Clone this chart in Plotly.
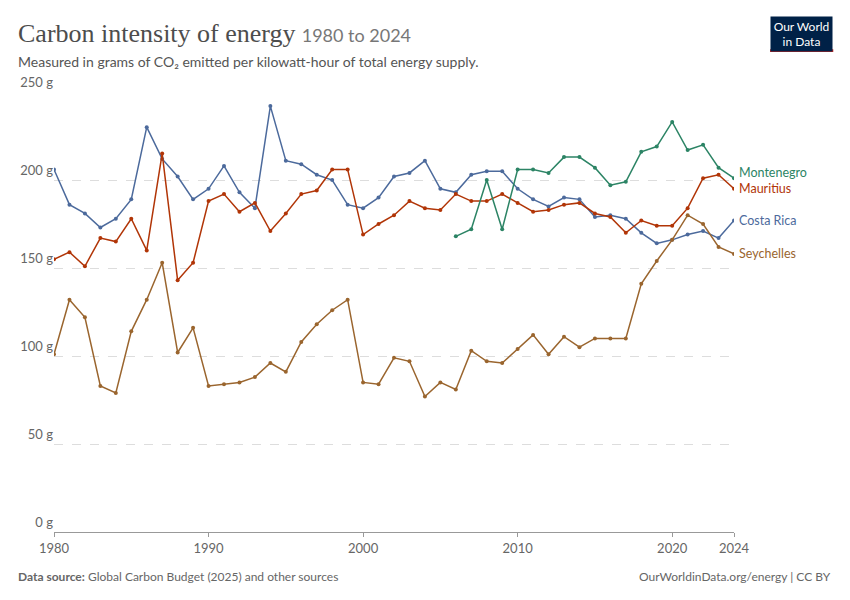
import plotly.graph_objects as go

years = list(range(1980, 2025))
costa_rica = [206,186,181,173,178,189,230,212,202,189,195,208,193,184,242,211,209,203,200,186,184,190,202,204,211,195,193,203,205,205,195,189,185,190,189,179,180,178,170,164,166,169,171,167,177]
mauritius = [155,159,151,167,165,178,160,215,143,153,188,192,182,187,171,181,192,194,206,206,169,175,180,188,184,183,192,188,188,192,187,182,183,186,187,181,179,170,177,174,174,184,201,203,195]
seychelles = [101,132,122,83,79,114,132,153,102,116,83,84,85,88,96,91,108,118,126,132,85,84,99,97,77,85,81,103,97,96,104,112,101,111,105,110,110,110,141,154,166,180,175,162,158]
mont_years = list(range(2006, 2025))
montenegro = [168,172,200,172,206,206,204,213,213,207,197,199,216,219,233,217,220,207,201]

series = [
    ("Costa Rica", years, costa_rica, "#4c6a9c"),
    ("Mauritius", years, mauritius, "#b13507"),
    ("Seychelles", years, seychelles, "#9a652e"),
    ("Montenegro", mont_years, montenegro, "#2c8465"),
]
label_y = {"Montenegro": 204, "Mauritius": 195, "Costa Rica": 177, "Seychelles": 158}

fig = go.Figure()
for name, xs, ys, c in series:
    fig.add_trace(go.Scatter(x=xs, y=ys, mode="lines+markers", name=name,
                             line=dict(color=c, width=1.5), marker=dict(size=4, color=c)))
    fig.add_annotation(x=2024, y=label_y[name], text=name, showarrow=False, xanchor="left",
                       xshift=3, font=dict(size=12.5, color=c, family="Lato"))

fig.update_layout(
    width=834, height=584, plot_bgcolor="white", paper_bgcolor="white",
    margin=dict(l=46, r=108, t=84, b=60), showlegend=False,
    font=dict(family="Lato", color="#5b5b5b"),
    xaxis=dict(range=[1980, 2024], tickvals=[1980, 1990, 2000, 2010, 2020, 2024],
               showgrid=False, showline=True, linecolor="#999", ticks="outside",
               tickcolor="#999", ticklen=4, tickfont=dict(size=13, color="#666")),
    yaxis=dict(range=[0, 250], tickvals=[0, 50, 100, 150, 200, 250],
               ticktext=["0 g", "50 g", "100 g", "150 g", "200 g", "250 g"],
               showgrid=True, gridcolor="#ddd", griddash="dash", zeroline=False,
               tickfont=dict(size=13, color="#666"), ticklabelposition="outside top"),
)
L = -0.056
fig.add_annotation(xref="paper", yref="paper", x=L, y=1.134, xanchor="left", yanchor="middle",
                   text="<span style='font-family:Liberation Serif;font-size:26px;color:#4d4d4d'>Carbon intensity of energy</span>"
                        "  <span style='font-size:18px;color:#777'>1980 to 2024</span>",
                   showarrow=False, font=dict(family="Lato"))
fig.add_annotation(xref="paper", yref="paper", x=L, y=1.07, xanchor="left", yanchor="middle",
                   text="Measured in grams of CO₂ emitted per kilowatt-hour of total energy supply.",
                   showarrow=False, font=dict(size=14, color="#555"))
fig.add_annotation(xref="paper", yref="paper", x=L, y=-0.102, xanchor="left", yanchor="middle",
                   text="<b>Data source:</b> Global Carbon Budget (2025) and other sources",
                   showarrow=False, font=dict(size=12, color="#666"))
fig.add_annotation(xref="paper", yref="paper", x=1.146, y=-0.102, xanchor="right", yanchor="middle",
                   text="OurWorldinData.org/energy | CC BY", showarrow=False, font=dict(size=12, color="#666"))
fig.add_annotation(xref="paper", yref="paper", x=1.146, y=1.173, xanchor="right", yanchor="top",
                   text="Our World<br>in Data", showarrow=False, align="center",
                   width=59, height=32, bgcolor="#002147", borderpad=1,
                   font=dict(size=12, color="white"))
fig.add_shape(type="rect", xref="paper", yref="paper", x0=1.053, x1=1.146, y0=1.091, y1=1.097,
              fillcolor="#ce261e", line=dict(width=0))
fig.write_html("out.html", config={"displayModeBar": False})
